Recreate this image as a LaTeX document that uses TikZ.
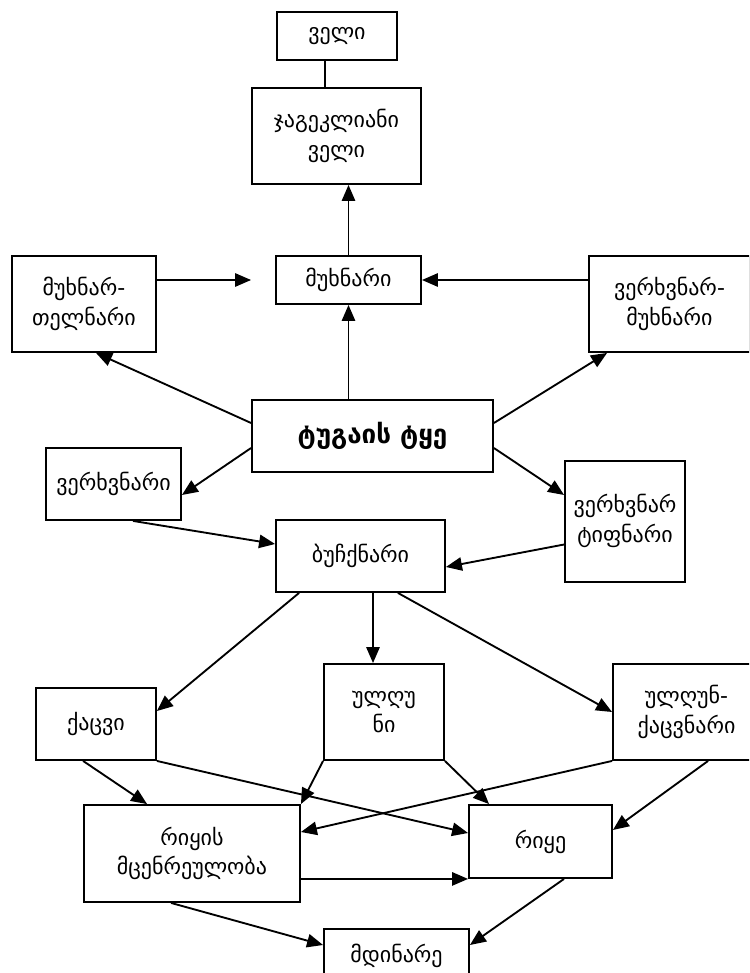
\documentclass[tikz,border=0pt]{standalone}
\usepackage{fontspec}
\setmainfont{DejaVu Sans}
\usetikzlibrary{arrows.meta,calc}
\def\pxu{0.75pt}
\begin{document}
\begin{tikzpicture}[x=0.75pt,y=-0.75pt,
  box/.style={draw, line width=1.4pt, inner sep=0pt, align=center, font=\fontsize{16.5}{22}\selectfont},
  arr/.style={line width=1.4pt, -{Triangle[length=12pt,width=10pt]}},
  ln/.style={line width=1.4pt}]
\useasboundingbox (0,0) rectangle (749,973);
\clip (0,0) rectangle (749,973);
\node[box, minimum width=120*\pxu, minimum height=48*\pxu] (veli) at (337,36) {ველი};
\node[box, minimum width=169*\pxu, minimum height=96*\pxu] (jag) at (336.5,136) {ჯაგეკლიანი\\ველი};
\node[box, minimum width=145*\pxu, minimum height=48*\pxu] (mux) at (348.5,280) {მუხნარი};
\node[box, minimum width=144*\pxu, minimum height=96*\pxu] (mt) at (84,304) {მუხნარ-\\თელნარი};
\node[box, minimum width=161*\pxu, minimum height=96*\pxu] (vm) at (669.5,304) {ვერხვნარ-\\მუხნარი};
\node[box, minimum width=241*\pxu, minimum height=72*\pxu, font=\fontsize{19.5}{22}\selectfont\bfseries] (tug) at (372.5,436) {ტუგაის ტყე};
\node[box, minimum width=135*\pxu, minimum height=72*\pxu] (verx) at (113.5,484) {ვერხვნარი};
\node[box, minimum width=120*\pxu, minimum height=121*\pxu] (vt) at (625,521.5) {\raisebox{11pt}{\begin{tabular}{@{}c@{}}ვერხვნარ\\ტიფნარი\end{tabular}}};
\node[box, minimum width=169*\pxu, minimum height=72*\pxu] (bush) at (360.5,556) {ბუჩქნარი};
\node[box, minimum width=120*\pxu, minimum height=72*\pxu] (kacvi) at (96,724) {ქაცვი};
\node[box, minimum width=120*\pxu, minimum height=96*\pxu] (ulgu) at (384,712) {ულღუ\\ნი};
\node[box, minimum width=147*\pxu, minimum height=96*\pxu] (ulgk) at (686.5,712) {ულღუნ-\\ქაცვნარი};
\node[box, minimum width=216*\pxu, minimum height=97*\pxu] (riy) at (192,853.5) {რიყის\\მცენრეულობა};
\node[box, minimum width=143*\pxu, minimum height=73*\pxu] (riye) at (540.5,841.5) {რიყე};
\node[box, minimum width=145*\pxu, minimum height=54*\pxu, anchor=north] (mdin) at (396.5,928) {მდინარე};
% connectors
\draw[ln] ($(veli.south)+(-12,0)$) coordinate (vj) -- (vj |- jag.north);
\draw[arr] (mux.north) -- (mux.north |- jag.south);
\draw[arr] (mt.east |- mux.west) -- ($(mux.west)+(-24,0)$);
\draw[arr] (vm.west |- mux.east) -- (mux.east);
\draw[arr] (mux.south |- tug.north) -- (mux.south);
\draw[arr] ($(tug.west)+(0,-13)$) -- ($(mt.south)+(12,0)$);
\draw[arr] ($(tug.east)+(0,-13)$) -- ($(vm.south west)+(19,0)$);
\draw[arr] ($(tug.west)+(0,12)$) -- ($(verx.east)+(0,11)$);
\draw[arr] ($(tug.east)+(0,12)$) -- ($(vt.west)+(0,-26.5)$);
\draw[arr] ($(verx.south)+(19.5,0)$) -- ($(bush.west)+(0,-12)$);
\draw[arr] ($(vt.west)+(0,23)$) -- ($(bush.east)+(0,11)$);
\draw[arr] ($(bush.south west)+(24,0)$) -- ($(kacvi.east)+(0,-13)$);
\draw[arr] ($(bush.south)+(12.5,0)$) coordinate (bu) -- (bu |- ulgu.north);
\draw[arr] ($(bush.south east)+(-48,0)$) -- (ulgk.west);
\draw[arr] ($(kacvi.south west)+(48,0)$) -- ($(riy.north west)+(64,0)$);
\draw[arr] (kacvi.south east) -- ($(riye.west)+(0,-8.5)$);
\draw[arr] (ulgu.south west) -- (riy.north east);
\draw[arr] (ulgu.south east) -- ($(riye.north west)+(21,0)$);
\draw[arr] (ulgk.south west) -- ($(riy.east)+(0,-21.5)$);
\draw[arr] ($(ulgk.south west)+(96,0)$) -- ($(riye.east)+(0,-11.5)$);
\draw[arr] (riy.east |- riye.south west) -- (riye.south west);
\draw[arr] ($(riy.south west)+(88,0)$) -- ($(mdin.north west)+(0,17)$);
\draw[arr] ($(riye.south)+(23.5,0)$) -- ($(mdin.north east)+(0,17)$);
\end{tikzpicture}
\end{document}
